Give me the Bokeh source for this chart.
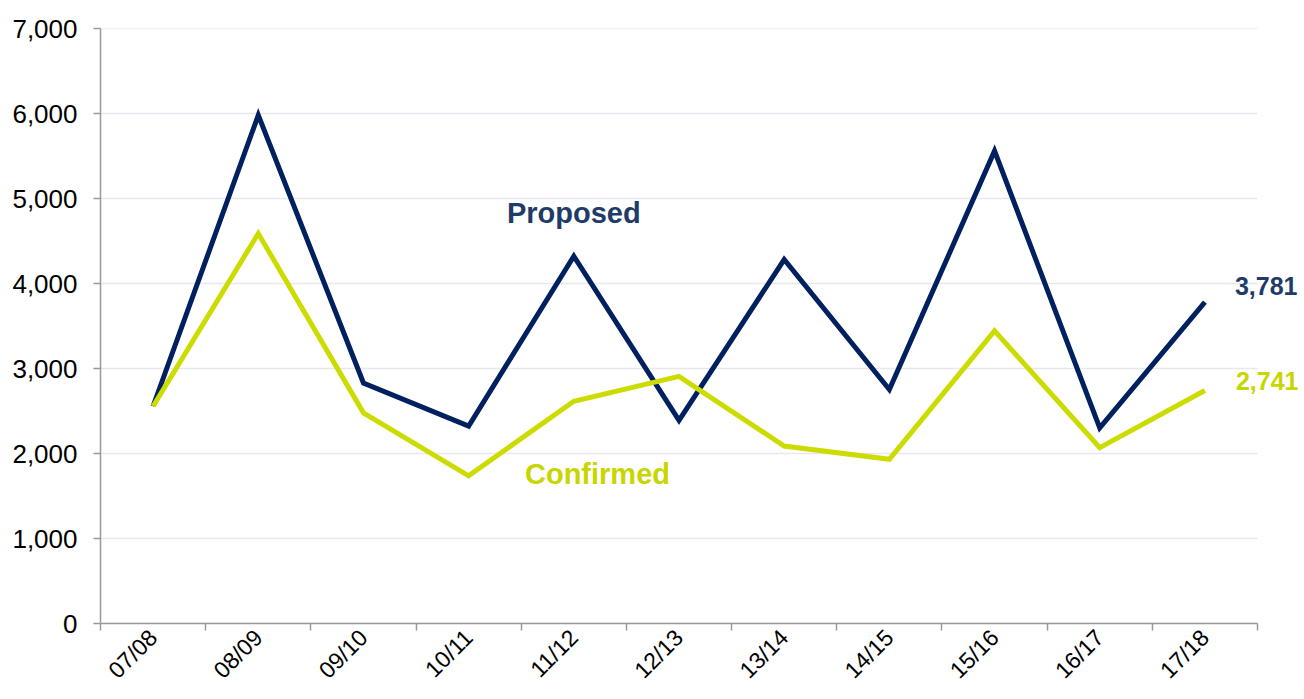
from bokeh.plotting import figure
from bokeh.models import FixedTicker, NumeralTickFormatter, Label, Range1d
from bokeh.embed import file_html
from bokeh.resources import INLINE
from math import pi

categories = ["07/08", "08/09", "09/10", "10/11", "11/12", "12/13",
              "13/14", "14/15", "15/16", "16/17", "17/18"]
proposed = [2556, 5980, 2829, 2322, 4321, 2389, 4282, 2752, 5560, 2302, 3781]
confirmed = [2556, 4588, 2478, 1737, 2615, 2908, 2088, 1932, 3442, 2068, 2741]
y_ticks = [0, 1000, 2000, 3000, 4000, 5000, 6000, 7000]

NAVY = "#002060"
NAVY_TXT = "#1F3B68"
YELLOW = "#CCDC00"
YELLOW_TXT = "#C8D600"
FONT = "Liberation Sans"

n = len(categories)
xs = [i + 0.5 for i in range(n)]

# layout: frame from x=100 to the figure's right edge; categories occupy 1157px
W, H = 1300, 698
LEFT, TOP, BOTTOM = 100, 28, 75
x_end = n * (W - LEFT) / 1157.0

p = figure(width=W, height=H, output_backend="svg", toolbar_location=None,
           x_range=Range1d(0, x_end), y_range=Range1d(0, 7000),
           min_border_left=LEFT, min_border_right=0, min_border_top=TOP,
           min_border_bottom=BOTTOM)
p.outline_line_color = None
p.background_fill_color = "white"
p.border_fill_color = "white"

# horizontal gridlines limited to the category span
p.segment(x0=[0] * len(y_ticks), x1=[n] * len(y_ticks), y0=y_ticks, y1=y_ticks,
          line_color="#E6E8EE", line_width=1.5)

p.line(xs, proposed, line_color=NAVY, line_width=5, line_join="miter")
p.line(xs, confirmed, line_color=YELLOW, line_width=5, line_join="miter")

# axes
p.xaxis.bounds = (0, n)
p.xaxis.ticker = FixedTicker(ticks=xs, minor_ticks=list(range(n + 1)))
p.xaxis.major_label_overrides = {x: c for x, c in zip(xs, categories)}
p.xaxis.major_tick_out = 0
p.xaxis.major_tick_in = 0
p.xaxis.minor_tick_out = 7
p.xaxis.minor_tick_in = 0
p.xaxis.minor_tick_line_color = "#999999"
p.xaxis.minor_tick_line_width = 1.5
p.xaxis.major_label_orientation = pi / 4
p.xaxis.major_label_text_font = FONT
p.xaxis.major_label_text_font_size = "23px"
p.xaxis.major_label_text_color = "#000000"
p.xaxis.major_label_standoff = 3

p.yaxis.ticker = FixedTicker(ticks=y_ticks)
p.yaxis.formatter = NumeralTickFormatter(format="0,0")
p.yaxis.major_tick_out = 7
p.yaxis.major_tick_in = 0
p.yaxis.minor_tick_line_color = None
p.yaxis.major_tick_line_color = "#999999"
p.yaxis.major_tick_line_width = 1.5
p.yaxis.major_label_text_font = FONT
p.yaxis.major_label_text_font_size = "26px"
p.yaxis.major_label_text_color = "#000000"
p.yaxis.major_label_standoff = 16

for ax in (p.xaxis, p.yaxis):
    ax.axis_line_color = "#999999"
    ax.axis_line_width = 1.5

p.xgrid.grid_line_color = None
p.ygrid.grid_line_color = None

# end value labels
p.add_layout(Label(x=xs[-1], y=proposed[-1], x_offset=30, y_offset=16,
                   text=f"{proposed[-1]:,}", text_font=FONT, text_font_size="25px",
                   text_font_style="bold", text_color=NAVY_TXT,
                   text_baseline="middle", text_align="left"))
p.add_layout(Label(x=xs[-1], y=confirmed[-1], x_offset=31, y_offset=10,
                   text=f"{confirmed[-1]:,}", text_font=FONT, text_font_size="25px",
                   text_font_style="bold", text_color=YELLOW_TXT,
                   text_baseline="middle", text_align="left"))

# series labels
p.add_layout(Label(x=4.5, y=4824, text="Proposed", text_font=FONT,
                   text_font_size="29px", text_font_style="bold",
                   text_color=NAVY_TXT, text_baseline="middle", text_align="center"))
p.add_layout(Label(x=4.725, y=1753, text="Confirmed", text_font=FONT,
                   text_font_size="29px", text_font_style="bold",
                   text_color=YELLOW_TXT, text_baseline="middle", text_align="center"))

open("out.html", "w").write(file_html(p, INLINE))
